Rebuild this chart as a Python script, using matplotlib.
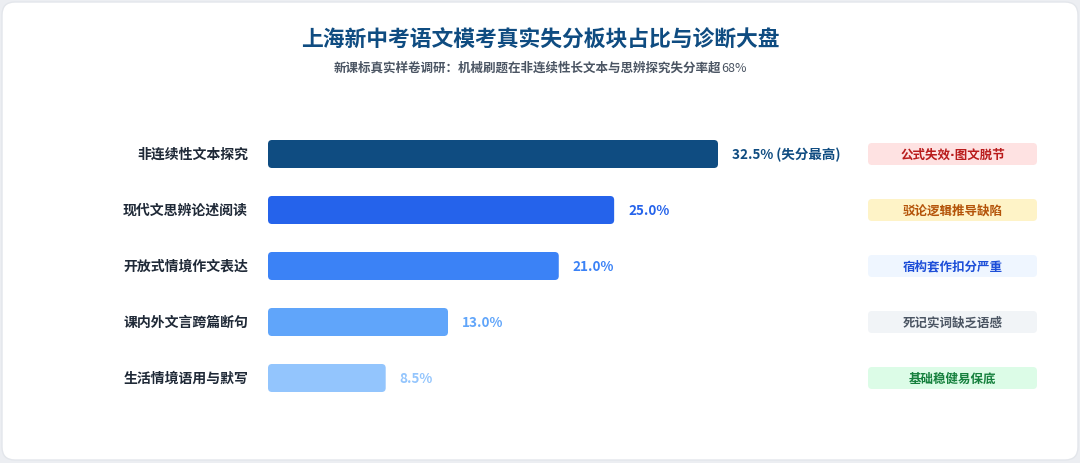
import matplotlib
matplotlib.use("Agg")
import matplotlib.pyplot as plt
from matplotlib.patches import FancyBboxPatch

plt.rcParams['font.family'] = ['Noto Sans CJK SC', 'DejaVu Sans']

title = "上海新中考语文模考真实失分板块占比与诊断大盘"
subtitle_main = "新课标真实样卷调研：机械刷题在非连续性长文本与思辨探究失分率超"
subtitle_tail = "68%"
categories = ["非连续性文本探究", "现代文思辨论述阅读", "开放式情境作文表达", "课内外文言跨篇断句", "生活情境语用与默写"]
values = [32.5, 25.0, 21.0, 13.0, 8.5]
value_labels = ["32.5% (失分最高)", "25.0%", "21.0%", "13.0%", "8.5%"]
diagnoses = ["公式失效·图文脱节", "驳论逻辑推导缺陷", "宿构套作扣分严重", "死记实词缺乏语感", "基础稳健易保底"]

bar_colors = ["#0f4c81", "#2563eb", "#3b82f6", "#60a5fa", "#93c5fd"]
tag_bg = ["#fee2e2", "#fef3c7", "#eff6ff", "#f1f4f7", "#dcfce7"]
tag_fg = ["#b91c1c", "#b45309", "#1d4ed8", "#4b5563", "#15803d"]

W, H = 1080, 464
fig = plt.figure(figsize=(W / 100, H / 100), dpi=100)
fig.patch.set_facecolor("#eceef2")

card = FancyBboxPatch((2 / W, 3 / H), (W - 4) / W, (H - 6) / H,
                      boxstyle="round,pad=0,rounding_size=0.012",
                      transform=fig.transFigure, facecolor="white",
                      edgecolor="#e3e6eb", linewidth=1.0,
                      mutation_aspect=W / H, zorder=-10)
fig.patches.append(card)

fig.text(0.5, 1 - 40 / H, title, ha="center", va="center", fontsize=15.7,
         fontweight="bold", color="#0f4c81")

# subtitle: bold CJK part + regular "68%"
renderer = fig.canvas.get_renderer()
t1 = fig.text(0, 1 - 68 / H, subtitle_main, ha="left", va="center", fontsize=9.0,
              fontweight="bold", color="#4b5563")
t2 = fig.text(0, 1 - 68 / H, subtitle_tail, ha="left", va="center", fontsize=9.0,
              fontweight="normal", color="#4b5563")
w1 = t1.get_window_extent(renderer).width
w2 = t2.get_window_extent(renderer).width
x_start = (W - (w1 + w2)) / 2
t1.set_x(x_start / W)
t2.set_x((x_start + w1) / W)

px_per_unit = 450 / 32.5
ax_left_px = 268
ax_w_px = 772
xmax = ax_w_px / px_per_unit
ax = fig.add_axes([ax_left_px / W, 57 / H, ax_w_px / W, 280 / H], zorder=5)
ax.set_xlim(0, xmax)
ax.set_ylim(4.5, -0.5)
ax.axis("off")

ypos = list(range(len(categories)))
bars = ax.barh(ypos, values, height=0.5, color=bar_colors)
row_px = 56
aspect = (1 / row_px) / (1 / px_per_unit)
for b, c in zip(bars, bar_colors):
    b.set_visible(False)
    p = FancyBboxPatch((b.get_x(), b.get_y()), b.get_width(), b.get_height(),
                       boxstyle="round,pad=0,rounding_size=%f" % (4 / px_per_unit),
                       mutation_aspect=aspect, facecolor=c, edgecolor="none")
    ax.add_patch(p)

for y, v, lab, c in zip(ypos, values, value_labels, bar_colors):
    ax.text(v + 14 / px_per_unit, y, lab, ha="left", va="center", fontsize=9.7,
            fontweight="bold", color=c)

for y, cat in zip(ypos, categories):
    ax.text(-20 / px_per_unit, y, cat, ha="right", va="center", fontsize=10,
            fontweight="bold", color="#1f2937", clip_on=False)

tag_x0 = (868 - ax_left_px) / px_per_unit
tag_w = (1037 - 868) / px_per_unit
tag_h = 22 / row_px
for y, d, bg, fg in zip(ypos, diagnoses, tag_bg, tag_fg):
    p = FancyBboxPatch((tag_x0, y - tag_h / 2), tag_w, tag_h,
                       boxstyle="round,pad=0,rounding_size=%f" % (4 / px_per_unit),
                       mutation_aspect=aspect, facecolor=bg, edgecolor="none",
                       clip_on=False)
    ax.add_patch(p)
    ax.text(tag_x0 + tag_w / 2, y, d, ha="center", va="center", fontsize=9.0,
            fontweight="bold", color=fg, clip_on=False,
            family=['DejaVu Sans', 'Noto Sans CJK SC'])

fig.savefig("out.png", dpi=100, facecolor=fig.get_facecolor())
